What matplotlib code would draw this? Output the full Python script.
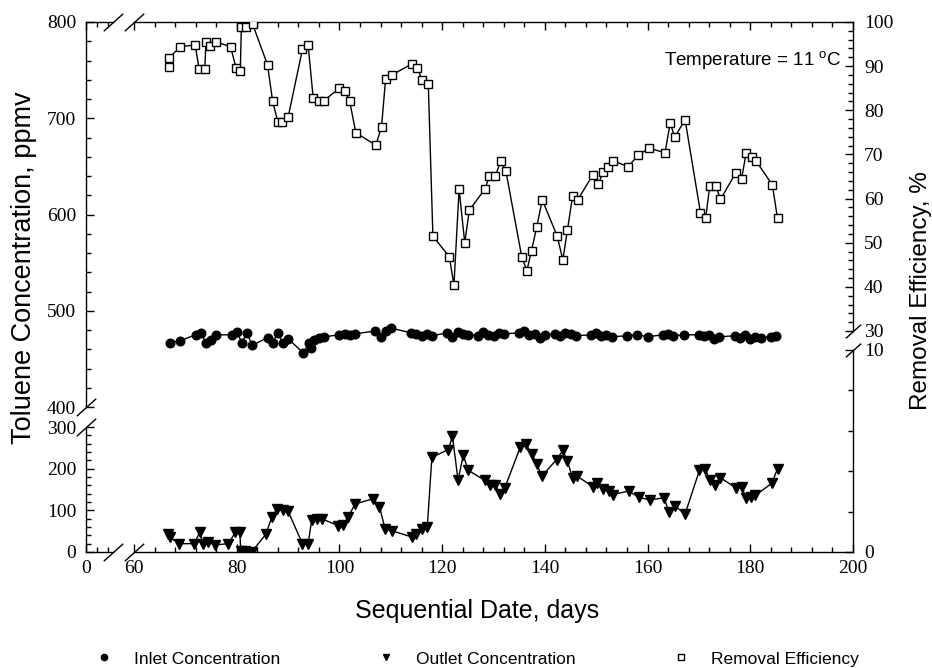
import numpy as np
import matplotlib
matplotlib.use("Agg")
import matplotlib.pyplot as plt
from matplotlib.lines import Line2D

plt.rcParams["font.family"] = ["Liberation Sans", "DejaVu Sans"]
plt.rcParams["mathtext.fontset"] = "custom"
plt.rcParams["mathtext.rm"] = "Liberation Sans"

# removal efficiency, % (right axis)
removal_days = [66.8, 66.8, 69.0, 71.9, 72.7, 73.8, 74.0, 74.8, 76.0, 78.8,
                79.9, 80.7, 80.9, 81.8, 83.1, 86.0, 87.0, 88.0, 88.9, 90.0,
                92.8, 93.9, 94.9, 96.1, 97.0, 100.0, 101.1, 102.0, 103.2, 107.1,
                108.2, 109.0, 110.2, 114.1, 115.2, 116.1, 117.3, 118.2, 121.4, 122.3,
                123.3, 124.4, 125.3, 128.3, 129.2, 130.3, 131.4, 132.4, 135.5, 136.5,
                137.4, 138.4, 139.5, 142.4, 143.5, 144.4, 145.4, 146.4, 149.3, 150.4,
                151.4, 152.3, 153.3, 156.2, 158.2, 160.3, 163.4, 164.4, 165.3, 167.3,
                170.3, 171.3, 172.1, 173.3, 174.2, 177.2, 178.3, 179.2, 180.3, 181.2,
                184.3, 185.3]
removal = [89.7, 91.8, 94.4, 94.8, 89.3, 89.3, 95.5, 94.6, 95.5, 94.4,
           89.5, 89.0, 98.9, 98.9, 99.5, 90.3, 82.0, 77.4, 77.4, 78.4,
           93.8, 94.8, 82.7, 82.2, 82.2, 85.0, 84.4, 82.0, 74.9, 72.1,
           76.3, 87.2, 88.0, 90.5, 89.5, 86.9, 86.0, 51.5, 46.8, 40.4,
           62.1, 50.0, 57.4, 62.1, 65.0, 65.0, 68.4, 66.3, 46.8, 43.7,
           48.2, 53.5, 59.7, 51.5, 46.1, 52.9, 60.6, 59.7, 65.3, 63.3,
           66.1, 67.2, 68.6, 67.2, 69.9, 71.4, 70.4, 77.1, 73.9, 77.9,
           56.8, 55.5, 62.8, 62.8, 59.8, 65.9, 64.4, 70.4, 69.5, 68.4,
           63.1, 55.5]

# inlet concentration, ppmv
inlet_days = [67, 69, 72, 73, 74, 75, 76, 79, 80, 81,
              82, 83, 86, 87, 88, 89, 90, 93, 94, 94.5,
              95, 96, 97, 100, 101, 102, 103, 107, 108, 109,
              110, 114, 115, 116, 117, 118, 121, 122, 123, 124,
              125, 127, 128, 129, 130, 131, 132, 135, 136, 137,
              138, 139, 140, 142, 143, 144, 145, 146, 149, 150,
              151, 152, 153, 156, 158, 160, 163, 164, 165, 167,
              170, 171, 172, 173, 174, 177, 178, 179, 180, 181,
              182, 184, 185]
inlet = [467, 469, 475, 477, 467, 470, 475, 475, 478, 467,
         477, 464, 472, 467, 477, 466, 471, 456, 466, 461,
         470, 472, 473, 475, 476, 475, 476, 479, 473, 479,
         482, 477, 476, 474, 476, 474, 477, 473, 478, 476,
         475, 474, 478, 475, 474, 477, 476, 477, 479, 475,
         476, 472, 475, 476, 474, 477, 476, 474, 475, 477,
         474, 475, 473, 474, 475, 473, 475, 476, 474, 475,
         475, 474, 475, 471, 473, 474, 472, 475, 471, 473,
         472, 473, 474]

# outlet concentration, ppmv
outlet_days = [66.7, 67.0, 68.8, 71.7, 72.8, 73.5, 74.5, 75.8, 78.4, 79.7,
               80.6, 80.8, 81.6, 82.9, 85.7, 86.8, 87.8, 89.0, 90.0, 92.8,
               93.9, 94.6, 95.6, 96.7, 99.8, 100.6, 101.7, 103.0, 106.6, 107.8,
               108.9, 110.2, 114.1, 115.0, 116.0, 117.1, 118.0, 121.2, 122.0, 123.1,
               124.1, 125.1, 128.3, 129.3, 130.3, 131.3, 132.2, 135.2, 136.3, 137.4,
               138.4, 139.4, 142.3, 143.5, 144.4, 145.4, 146.3, 149.3, 150.2, 151.3,
               152.4, 153.2, 156.3, 158.4, 160.4, 163.2, 164.2, 165.3, 167.3, 170.1,
               171.2, 172.1, 173.1, 174.2, 177.2, 178.3, 179.2, 180.1, 181.0, 184.2,
               185.3]
outlet = [43, 35, 20, 20, 47, 19, 23, 17, 20, 47,
          47, 2, 2, 0, 43, 83, 103, 101, 98, 20,
          19, 77, 79, 79, 63, 65, 83, 115, 128, 109,
          55, 51, 36, 43, 55, 59, 227, 246, 278, 172,
          232, 196, 172, 160, 160, 140, 154, 251, 259, 236,
          212, 182, 222, 244, 218, 178, 182, 157, 165, 152,
          146, 138, 146, 131, 125, 130, 95, 111, 91, 196,
          200, 172, 162, 178, 154, 157, 130, 133, 136, 165,
          200]

x_major = [0, 60, 80, 100, 120, 140, 160, 180, 200]
x_minor = [2, 4] + [v for v in range(64, 200, 4) if v % 20]
left_major = [0, 100, 200, 300, 400, 500, 600, 700, 800]
left_minor = [v for v in range(20, 300, 20) if v % 100] + \
             [v for v in range(420, 800, 20) if v % 100]
right_major = [0, 10, 30, 40, 50, 60, 70, 80, 90, 100]
right_minor = [2, 4, 6, 8] + [v for v in range(32, 100, 2) if v % 10]

x_segments = [(0, 5), (60, 200)]
left_segments = [(0, 300), (400, 800)]
right_segments = [(0, 10), (30, 100)]


def piecewise(xp, fp):
    xp = np.asarray(xp, float)
    fp = np.asarray(fp, float)

    def f(v):
        v = np.asarray(v, float)
        mid = np.interp(v, xp, fp)
        lo = fp[0] + (v - xp[0]) * (fp[1] - fp[0]) / (xp[1] - xp[0])
        hi = fp[-1] + (v - xp[-1]) * (fp[-1] - fp[-2]) / (xp[-1] - xp[-2])
        return np.where(v < xp[0], lo, np.where(v > xp[-1], hi, mid))
    return f


def broken_scale(xp, fp):
    return piecewise(xp, fp), piecewise(fp, xp)


fig = plt.figure(figsize=(9.32, 6.68), dpi=100)
ax = fig.add_axes([86 / 932, 1 - 552 / 668, 767 / 932, 530 / 668])

ax.set_xscale("function", functions=broken_scale([0, 5, 60, 200], [0, 27, 48, 767]))
ax.set_yscale("function", functions=broken_scale([0, 300, 400, 800], [0, 125, 145, 530]))
ax2 = ax.twinx()
ax2.set_yscale("function", functions=broken_scale([0, 10, 30, 100], [0, 202, 221, 530]))

ax.set_xlim(0, 200)
ax.set_ylim(0, 800)
ax2.set_ylim(0, 100)

ax.plot(inlet_days, inlet, "-o", color="k", lw=1.0, ms=6.2)
ax.plot(outlet_days, outlet, "-v", color="k", lw=1.0, ms=7)
ax2.plot(removal_days, removal, "-s", color="k", lw=1.0, ms=5.8,
         mfc="white", mew=1.0)

ax.set_xticks(x_major, labels=[str(v) for v in x_major])
ax.set_xticks(x_minor, minor=True)
ax.set_yticks(left_major, labels=[str(v) for v in left_major])
ax.set_yticks(left_minor, minor=True)
ax2.set_yticks(right_major, labels=[str(v) for v in right_major])
ax2.set_yticks(right_minor, minor=True)

for a in (ax, ax2):
    for s in a.spines.values():
        s.set_visible(False)
    a.tick_params(which="both", direction="in", width=1.0,
                  labelsize=14, labelfontfamily="Liberation Serif")
    a.tick_params(which="major", length=5.5)
    a.tick_params(which="minor", length=3.6)
ax.tick_params(axis="x", which="both", top=True, bottom=True, pad=6)
ax.tick_params(axis="y", which="both", left=True, right=False, pad=7)
ax2.tick_params(axis="y", which="both", right=True, left=False, pad=8)

# axis lines with gaps
tx = ax.get_xaxis_transform()
ty = ax.get_yaxis_transform()
ty2 = ax2.get_yaxis_transform()
kw = dict(color="k", lw=1.0, clip_on=False)
for a, b in x_segments:
    ax.plot([a, b], [0, 0], transform=tx, **kw)
    ax.plot([a, b], [1, 1], transform=tx, **kw)
for a, b in left_segments:
    ax.plot([0, 0], [a, b], transform=ty, **kw)
for a, b in right_segments:
    ax2.plot([1, 1], [a, b], transform=ty2, **kw)

# break marks
slash = [(-1, -0.9), (1, 0.9)]
mk = dict(marker=slash, ls="none", mfc="none", mec="k", mew=1.0, clip_on=False)
for y in (0, 1):
    ax.plot([x_segments[0][1], x_segments[1][0]], [y, y], transform=tx, ms=14, **mk)
ax.plot([0, 0], [left_segments[0][1], left_segments[1][0]], transform=ty, ms=14, **mk)
ax2.plot([1, 1], [right_segments[0][1], right_segments[1][0]], transform=ty2, ms=11, **mk)

ax.set_xlabel("Sequential Date, days", fontsize=18)
ax.xaxis.set_label_coords(0.51, -0.088)
ax.set_ylabel("Toluene Concentration, ppmv", fontsize=19.5)
ax.yaxis.set_label_coords(-0.064, 0.536)
ax2.set_ylabel("Removal Efficiency, %", fontsize=17.5)
ax2.yaxis.set_label_coords(1.074, 0.493)

ax.text(0.9857, 0.928, "Temperature = 11 $^{\\mathrm{o}}$C", transform=ax.transAxes,
        ha="right", va="center", fontsize=13.5)

handles = [Line2D([], [], ls="none", marker="o", color="k", ms=4.5),
           Line2D([], [], ls="none", marker="v", color="k", ms=5),
           Line2D([], [], ls="none", marker="s", color="k", ms=4.5,
                  mfc="white", mew=1.0)]
labels = ["Inlet Concentration", "Outlet Concentration", "Removal Efficiency"]
fig.legend(handles, labels, loc="center", bbox_to_anchor=(0.512, 0.0135), ncol=3,
           frameon=False, fontsize=12.5, handlelength=1, handletextpad=1.2,
           columnspacing=5.6, borderpad=0, borderaxespad=0)

fig.savefig("out.png", dpi=100)
